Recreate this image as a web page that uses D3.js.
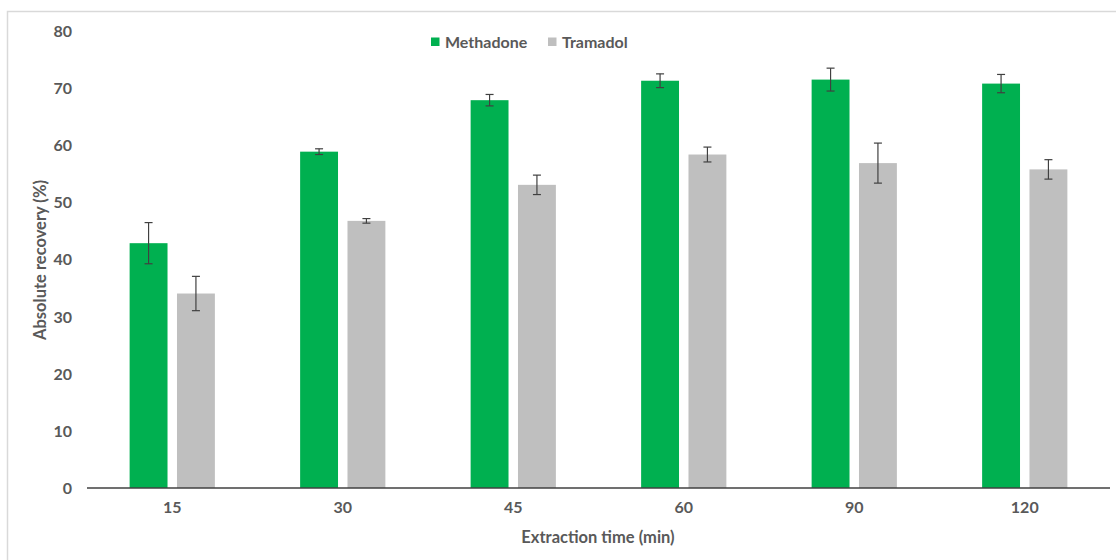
<!DOCTYPE html>
<html>
<head>
<meta charset="utf-8">
<script src="https://cdn.jsdelivr.net/npm/d3@7"></script>
<style>
  html, body { margin: 0; padding: 0; background: #fff; }
  svg { display: block; }
  text { font-family: Lato, "Open Sans", sans-serif; font-weight: 700; fill: #595959; }
</style>
</head>
<body>
<svg id="chart" width="1116" height="560"></svg>
<script>
// Extraction time categories (min)
const categories = ["15", "30", "45", "60", "90", "120"];
const seriesNames = ["Methadone", "Tramadol"];
// Mean absolute recovery (%)
const methadone = [42.8, 58.8, 67.8, 71.2, 71.4, 70.7];
const tramadol  = [34.0, 46.7, 53.0, 58.3, 56.8, 55.7];
// Standard deviations
const methadoneErr = [3.6, 0.5, 1.0, 1.2, 2.0, 1.6];
const tramadolErr  = [3.0, 0.4, 1.7, 1.3, 3.5, 1.7];
const yTicks = [0, 10, 20, 30, 40, 50, 60, 70, 80];
const colors = ["#00b050", "#bfbfbf"];

const svg = d3.select("#chart");

// outer frame
svg.append("rect")
  .attr("x", 7.5).attr("y", 11.5)
  .attr("width", 1120).attr("height", 560)
  .attr("fill", "none").attr("stroke", "#d9d9d9").attr("stroke-width", 1.5);

const plot = { left: 87, right: 1110, top: 30.4, bottom: 488 };

const y = d3.scaleLinear().domain([0, 80]).range([plot.bottom, plot.top]);
const x0 = d3.scaleBand().domain(categories)
  .range([plot.left, plot.right]).paddingInner(0.5).paddingOuter(0.25);
const x1 = d3.scaleBand().domain(seriesNames)
  .range([0, x0.bandwidth()]).paddingInner(0.2);

const rows = categories.map((c, i) => ({
  cat: c,
  vals: [
    { s: seriesNames[0], v: methadone[i], e: methadoneErr[i] },
    { s: seriesNames[1], v: tramadol[i], e: tramadolErr[i] }
  ]
}));

const fs = 16;

// y axis labels only (no line, no grid)
const yAxis = d3.axisLeft(y).tickValues(yTicks).tickSize(0).tickPadding(0);
const gy = svg.append("g").attr("transform", `translate(${plot.left - 15},0)`).call(yAxis);
gy.select(".domain").remove();
gy.selectAll("text").attr("font-size", fs).attr("dy", "0.35em")
  .style("font-family", "Lato, sans-serif").style("font-weight", 700).attr("fill", "#595959");

// bars
const groups = svg.append("g").selectAll("g").data(rows).join("g")
  .attr("transform", d => `translate(${x0(d.cat)},0)`);

groups.selectAll("rect").data(d => d.vals).join("rect")
  .attr("x", d => x1(d.s))
  .attr("width", x1.bandwidth())
  .attr("y", d => y(d.v))
  .attr("height", d => y(0) - y(d.v))
  .attr("fill", (d, i) => colors[i]);

// error bars
const cap = 4;
const eb = groups.selectAll("g.err").data(d => d.vals).join("g").attr("class", "err")
  .attr("transform", d => `translate(${x1(d.s) + x1.bandwidth() / 2},0)`)
  .attr("stroke", "#404040").attr("stroke-width", 1.2);
eb.append("line").attr("x1", 0).attr("x2", 0)
  .attr("y1", d => y(d.v + d.e)).attr("y2", d => y(d.v - d.e));
eb.append("line").attr("x1", -cap).attr("x2", cap)
  .attr("y1", d => y(d.v + d.e)).attr("y2", d => y(d.v + d.e));
eb.append("line").attr("x1", -cap).attr("x2", cap)
  .attr("y1", d => y(d.v - d.e)).attr("y2", d => y(d.v - d.e));

// x axis
const xAxis = d3.axisBottom(x0).tickSize(0).tickPadding(14);
const gx = svg.append("g").attr("transform", `translate(0,${plot.bottom})`).call(xAxis);
gx.select(".domain").attr("stroke", "#404040").attr("stroke-width", 1.3)
  .attr("d", `M${plot.left},0H${plot.right}`);
gx.selectAll("text").attr("font-size", fs)
  .style("font-family", "Lato, sans-serif").style("font-weight", 700).attr("fill", "#595959");

// axis titles
svg.append("text")
  .attr("x", 598).attr("y", 543)
  .attr("text-anchor", "middle").attr("font-size", 16.5)
  .text("Extraction time (min)");
svg.append("text")
  .attr("transform", "translate(46,260) rotate(-90)")
  .attr("text-anchor", "middle").attr("font-size", 16.5)
  .text("Absolute recovery (%)");

// legend
const legend = svg.append("g").attr("transform", "translate(431,37.5)");
const legX = [0, 117];
seriesNames.forEach((s, i) => {
  const g = legend.append("g").attr("transform", `translate(${legX[i]},0)`);
  g.append("rect").attr("width", 8.5).attr("height", 8.5).attr("fill", colors[i]);
  g.append("text").attr("x", 14).attr("y", 4.5).attr("dy", "0.35em")
    .attr("font-size", fs).text(s);
});
</script>
</body>
</html>
